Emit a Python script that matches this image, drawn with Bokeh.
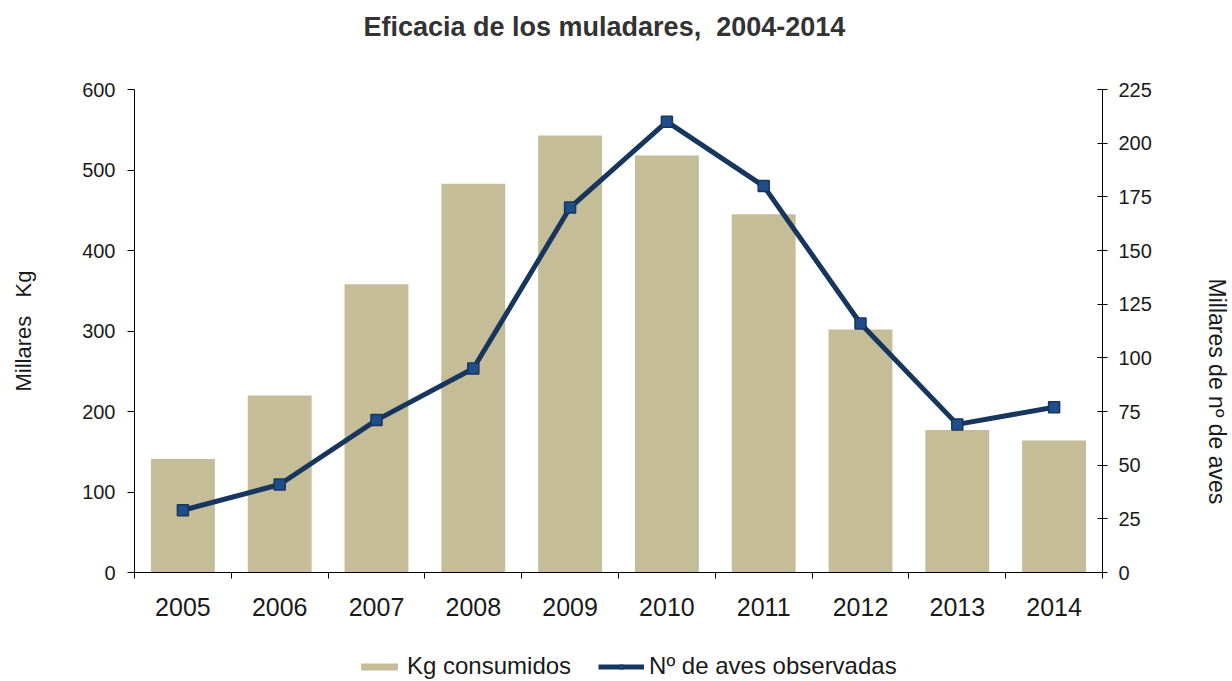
from bokeh.plotting import figure
from bokeh.layouts import column
from bokeh.models import (Range1d, LinearAxis, FixedTicker, Legend, LegendItem,
                          Title, BoxAnnotation)
from bokeh.embed import file_html
from bokeh.resources import INLINE

years = [2005, 2006, 2007, 2008, 2009, 2010, 2011, 2012, 2013, 2014]
kg_consumidos = [141, 220, 358, 483, 543, 518, 445, 302, 177, 164]
aves_observadas = [29, 41, 71, 95, 170, 210, 180, 116, 69, 77]
left_ticks = [0, 100, 200, 300, 400, 500, 600]
right_ticks = [0, 25, 50, 75, 100, 125, 150, 175, 200, 225]
title_text = "Eficacia de los muladares,\u00a0 2004-2014"
left_label = "Millares\u00a0\u00a0 Kg"
right_label = "Millares de nº de aves"
bar_label = "Kg consumidos"
line_label = "Nº de aves observadas"

FONT = "Liberation Sans"
TXT = "#1a1a1a"
BAR = "#C4BD97"
LINE = "#17365D"
MARK = "#1F4E8A"

W, H1, H2 = 1232, 637, 44
p = figure(width=W, height=H1, output_backend="svg", toolbar_location=None,
           x_range=Range1d(years[0] - 0.5, years[-1] + 0.5),
           y_range=Range1d(left_ticks[0], left_ticks[-1]),
           x_axis_location=None, y_axis_location=None,
           min_border_left=134, min_border_right=130,
           min_border_top=89, min_border_bottom=H1 - 572)
p.extra_y_ranges = {"aves": Range1d(right_ticks[0], right_ticks[-1])}
p.grid.visible = False
p.outline_line_color = None
p.background_fill_color = "white"
p.border_fill_color = "white"

# title: a thin spacer panel next to the frame, then the title itself
p.add_layout(Title(text="\u00a0", text_font_size="1px", standoff=40), "above")
p.add_layout(Title(text=title_text, align="left", offset=229, standoff=10,
                   text_font=FONT, text_font_size="27px",
                   text_font_style="bold", text_color="#333333"), "above")

# left axis
ya = LinearAxis(ticker=FixedTicker(ticks=left_ticks, minor_ticks=[]))
ya.major_tick_out = 7
ya.major_tick_in = 0
ya.minor_tick_out = 0
ya.minor_tick_in = 0
ya.major_label_standoff = 12
ya.major_label_text_font = FONT
ya.major_label_text_font_size = "20px"
ya.major_label_text_color = TXT
ya.axis_line_color = "black"
ya.major_tick_line_color = "black"
ya.axis_label = left_label
ya.axis_label_text_font = FONT
ya.axis_label_text_font_size = "22px"
ya.axis_label_text_font_style = "normal"
ya.axis_label_text_color = TXT
ya.axis_label_standoff = 43
p.add_layout(ya, "left")

# right axis
ra = LinearAxis(y_range_name="aves",
                ticker=FixedTicker(ticks=right_ticks, minor_ticks=[]))
ra.major_tick_out = 5
ra.major_tick_in = 5
ra.minor_tick_out = 0
ra.minor_tick_in = 0
ra.major_label_standoff = 11
ra.major_label_text_font = FONT
ra.major_label_text_font_size = "20px"
ra.major_label_text_color = TXT
ra.axis_line_color = "black"
ra.major_tick_line_color = "black"
p.add_layout(ra, "right")
p.add_layout(Title(text="\u00a0", text_font_size="1px", standoff=45), "right")
p.add_layout(Title(text=right_label, align="left", offset=189,
                   vertical_align="middle", standoff=0,
                   text_font=FONT, text_font_size="23px",
                   text_font_style="normal", text_color=TXT), "right")

# bottom axis: labels at years, tick marks between years
bounds = [y - 0.5 for y in years] + [years[-1] + 0.5]
xa = LinearAxis(ticker=FixedTicker(ticks=years, minor_ticks=bounds))
xa.major_tick_out = 0
xa.major_tick_in = 0
xa.minor_tick_out = 6
xa.minor_tick_in = 0
xa.minor_tick_line_color = "black"
xa.major_label_standoff = 19
xa.major_label_text_font = FONT
xa.major_label_text_font_size = "25px"
xa.major_label_text_color = TXT
xa.axis_line_color = "black"
p.add_layout(xa, "below")

bars = p.vbar(x=years, top=kg_consumidos, width=0.66, fill_color=BAR,
              line_color=None)
ln = p.line(x=years, y=aves_observadas, y_range_name="aves", line_color=LINE,
            line_width=5)
mk = p.scatter(x=years, y=aves_observadas, y_range_name="aves", marker="square",
               size=11, fill_color=MARK, line_color=LINE, line_width=1.5)

# legend strip below the chart; its own renderers are covered by a white box
q = figure(width=W, height=H2, output_backend="svg", toolbar_location=None,
           x_axis_location=None, y_axis_location=None, min_border=0,
           x_range=Range1d(years[0] - 0.5, years[-1] + 0.5),
           y_range=Range1d(left_ticks[0], left_ticks[-1]))
q.grid.visible = False
q.outline_line_color = None
lb = q.vbar(x=years, top=kg_consumidos, width=0.66, fill_color=BAR,
            line_color=None)
ll = q.line(x=years, y=aves_observadas, line_color=LINE, line_width=5)
lm = q.scatter(x=years, y=aves_observadas, marker="square", size=11,
               fill_color=MARK, line_color=LINE, line_width=1.5)
q.add_layout(BoxAnnotation(fill_color="white", fill_alpha=1.0,
                           line_color=None))
legend = Legend(items=[LegendItem(label=bar_label, renderers=[lb]),
                       LegendItem(label=line_label, renderers=[ll, lm])],
                orientation="horizontal", location=(222, 1),
                border_line_color=None, background_fill_alpha=0,
                label_text_font=FONT, label_text_font_size="24px",
                label_text_color=TXT, glyph_width=46, glyph_height=9,
                label_standoff=5, spacing=27, padding=0, margin=0,
                label_height=20)
q.add_layout(legend)

open("out.html", "w").write(file_html(column(p, q, spacing=0), INLINE))
